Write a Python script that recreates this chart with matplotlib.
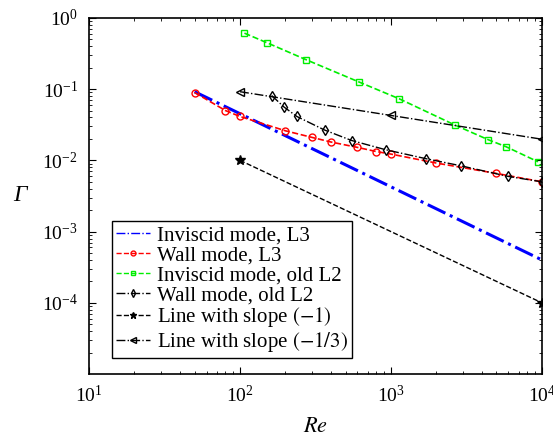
import numpy as np
import matplotlib
matplotlib.use("Agg")
import matplotlib.pyplot as plt
from matplotlib.ticker import LogLocator, NullFormatter

plt.rcParams['font.family'] = 'serif'
plt.rcParams['font.serif'] = ['Liberation Serif', 'DejaVu Serif']
plt.rcParams['mathtext.fontset'] = 'stix'

# inviscid mode, L3
re_inv_l3 = [50, 10000]
g_inv_l3 = [0.092, 4.0e-4]

# wall mode, L3
re_wall_l3 = [50, 80, 100, 200, 300, 400, 600, 800, 1000, 2000, 5000, 10000]
g_wall_l3 = [0.0896, 0.0501, 0.0413, 0.026, 0.021, 0.0181, 0.0152, 0.0133,
             0.01225, 0.00916, 0.00655, 0.0050]

# inviscid mode, old L2
re_inv_l2 = [107, 150, 275, 611, 1135, 2654, 4407, 5801, 9414]
g_inv_l2 = [0.61, 0.45, 0.258, 0.1265, 0.0731, 0.0313, 0.0195, 0.0155, 0.00956]

# wall mode, old L2
re_wall_l2 = [162, 196, 238, 364, 549, 922, 1714, 2896, 5983, 10000]
g_wall_l2 = [0.0813, 0.0559, 0.0413, 0.0266, 0.019, 0.0141, 0.01053, 0.0084,
             0.00595, 0.0050]

# reference slopes
re_s1 = [100, 10000]
g_s1 = [0.01, 1.0e-4]
re_s3 = [100, 1000, 10000]
g_s3 = [0.092, 0.0427, 0.0198]

fig = plt.figure(figsize=(5.53, 4.36), dpi=100)
ax = fig.add_axes([0.161, 0.142, 0.819, 0.817])

ax.loglog(re_inv_l3, g_inv_l3, '-.', color='#0000ff', lw=2.2,
          label='Inviscid mode, L3')
ax.loglog(re_wall_l3, g_wall_l3, '--o', color='#ff0000', lw=1.2, ms=5,
          mfc='none', mew=1.0, label='Wall mode, L3')
ax.loglog(re_inv_l2, g_inv_l2, '--s', color='#00ee00', lw=1.2, ms=4.5,
          mfc='none', mew=1.0, label='Inviscid mode, old L2')
ax.loglog(re_wall_l2, g_wall_l2, '-.d', color='black', lw=1.0, ms=5.5,
          mfc='none', mew=1.0, label='Wall mode, old L2')
ax.loglog(re_s1, g_s1, '--*', color='black', lw=1.0, ms=7,
          label='Line with slope $(-1)$')
ax.loglog(re_s3, g_s3, '-.<', color='black', lw=1.0, ms=6,
          mfc='none', mew=1.0, label='Line with slope $(-1/3)$')

ax.set_xticks([1e1, 1e2, 1e3, 1e4])
ax.set_yticks([1e-4, 1e-3, 1e-2, 1e-1, 1])
ax.xaxis.set_minor_locator(LogLocator(base=10, subs=np.arange(2, 10), numticks=20))
ax.yaxis.set_minor_locator(LogLocator(base=10, subs=np.arange(2, 10), numticks=20))
ax.yaxis.set_minor_formatter(NullFormatter())
ax.xaxis.set_minor_formatter(NullFormatter())
ax.set_xlim(10, 1e4)
ax.set_ylim(1e-5, 1)
ax.tick_params(which='both', direction='in', top=True, right=True, labelsize=14)
ax.tick_params(which='major', length=5, width=0.8, pad=8)
ax.tick_params(which='minor', length=2.5, width=0.6)
for s in ax.spines.values():
    s.set_linewidth(1.2)

ax.set_xlabel('$Re$', fontsize=16, labelpad=8)
ax.set_ylabel('Γ', fontsize=17, fontstyle='italic', rotation=0, labelpad=16,
              va='center')

leg = ax.legend(loc='lower left', bbox_to_anchor=(0.051, 0.045), fontsize=15,
                fancybox=False, edgecolor='black', framealpha=1,
                handlelength=1.6, handletextpad=0.35, labelspacing=0.02,
                borderpad=0.2, borderaxespad=0, markerscale=0.7)
leg.get_frame().set_linewidth(1.0)
for h in leg.get_lines():
    h.set_linewidth(1.0)

fig.savefig('out.png', dpi=100)
